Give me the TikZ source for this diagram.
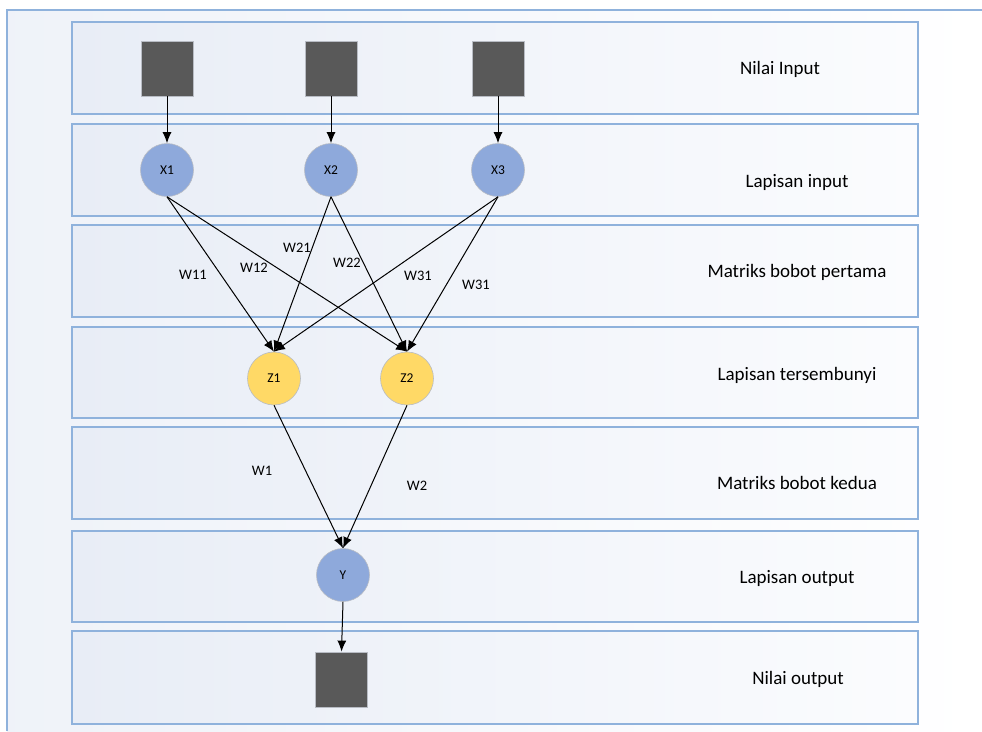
\documentclass[tikz,border=0pt]{standalone}
\usepackage{fontspec}
\setmainfont{Carlito}
\usetikzlibrary{arrows.meta}
\definecolor{boxline}{HTML}{8FB2DC}
\definecolor{boxleft}{HTML}{E8EDF6}
\definecolor{boxright}{HTML}{FBFCFE}
\definecolor{nodeblue}{HTML}{8EA9DB}
\definecolor{nodeyellow}{HTML}{FFD966}
\definecolor{sqgrey}{HTML}{595959}
\definecolor{rimgrey}{HTML}{B8BCC4}
\tikzset{
  layerbox/.style={draw=boxline, line width=1.1pt, left color=boxleft, right color=boxright},
  inbox/.style={rectangle, fill=sqgrey, draw=rimgrey, line width=0.8pt, minimum width=52pt, minimum height=55pt, inner sep=0pt},
  neuron/.style={circle, draw=rimgrey, line width=0.6pt, minimum size=53pt, inner sep=0pt, font=\fontsize{13.5}{15}\selectfont},
  bluen/.style={neuron, fill=nodeblue},
  yellown/.style={neuron, fill=nodeyellow},
  conn/.style={-{Latex[length=11pt,width=9pt]}, line width=1pt, black},
  wlabel/.style={font=\fontsize{14.5}{16}\selectfont, inner sep=0pt},
  layerlabel/.style={font=\fontsize{19}{22}\selectfont, inner sep=0pt}
}
\begin{document}
\begin{tikzpicture}[x=1pt,y=-1pt]
\useasboundingbox (0,0) rectangle (982,731);
\fill[white] (0,0) rectangle (982,731);
% outer frame
\shade[left color=boxleft!70, right color=white] (7,10) rectangle (982,731);
\draw[boxline, line width=1.1pt] (7,731) -- (7,10) -- (982,10);
% layer boxes
\draw[layerbox] (72,22) rectangle (918,114);
\draw[layerbox] (72,124) rectangle (918,216);
\draw[layerbox] (72,225) rectangle (918,317);
\draw[layerbox] (72,327) rectangle (918,418);
\draw[layerbox] (72,427) rectangle (918,519);
\draw[layerbox] (72,531) rectangle (918,622);
\draw[layerbox] (72,631) rectangle (918,724);
% layer labels
\node[layerlabel] (l1) at (780,69) {Nilai Input};
\node[layerlabel] (l2) at (797,182) {Lapisan input};
\node[layerlabel] (l3) at (797,272) {Matriks bobot pertama};
\node[layerlabel] (l4) at (797,375) {Lapisan tersembunyi};
\node[layerlabel] (l5) at (797,483) {Matriks bobot kedua};
\node[layerlabel] (l6) at (797,578) {Lapisan output};
\node[layerlabel] (l7) at (798,679) {Nilai output};
% input squares
\node[inbox] (s1) at (167,68.5) {};
\node[inbox] (s2) at (331,68.5) {};
\node[inbox] (s3) at (498,68.5) {};
% neurons
\node[bluen] (x1) at (167,170) {X1};
\node[bluen] (x2) at (331,170) {X2};
\node[bluen] (x3) at (498,170) {X3};
\node[yellown] (z1) at (274,378.5) {Z1};
\node[yellown] (z2) at (407,378.5) {Z2};
\node[bluen] (y) at (343,575) {Y};
\node[inbox] (so) at (341.5,679.5) {};
% connectors
\draw[conn] (s1.south) -- (x1.north);
\draw[conn] (s2.south) -- (x2.north);
\draw[conn] (s3.south) -- (x3.north);
\foreach \a in {x1,x2,x3}{
  \draw[conn] (\a.south) -- (z1.north);
  \draw[conn] (\a.south) -- (z2.north);
}
\draw[conn] (z1.south) -- (y.north);
\draw[conn] (z2.south) -- (y.north);
\draw[conn] (y.south) -- (so.north);
% weight labels
\node[wlabel] (w11) at (193,275) {W11};
\node[wlabel] (w12) at (254,268) {W12};
\node[wlabel] (w21) at (297,248) {W21};
\node[wlabel] (w22) at (347,263) {W22};
\node[wlabel] (w31a) at (418,276) {W31};
\node[wlabel] (w31b) at (476,285) {W31};
\node[wlabel] (w1) at (262,471) {W1};
\node[wlabel] (w2) at (417,486) {W2};
\end{tikzpicture}
\end{document}
